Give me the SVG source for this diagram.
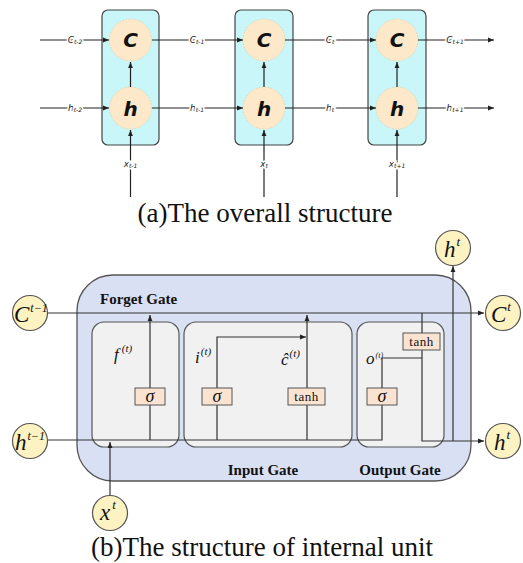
<svg xmlns="http://www.w3.org/2000/svg" width="523" height="563" viewBox="0 0 523 563">
<defs>
<marker id="ar" viewBox="0 0 10 10" refX="10" refY="5" markerWidth="6" markerHeight="6" orient="auto" markerUnits="userSpaceOnUse"><path d="M0,1 L10,5 L0,9 z" fill="#222"/></marker>
</defs>
<style>
.cell{fill:#c9f6f9;stroke:#444;stroke-width:1.2}
.node{fill:#fde9c9;stroke:#e6d6b0;stroke-width:1;stroke-dasharray:1.5 1.5}
.big{font-family:"DejaVu Sans",sans-serif;font-weight:bold;font-style:italic;font-size:20px;fill:#111}
.lab{font-family:"DejaVu Sans",sans-serif;font-style:italic;font-size:9px;fill:#222;stroke:#fff;stroke-width:3;paint-order:stroke}
.ln{stroke:#222;stroke-width:1.2;fill:none}
.ln2{stroke:#333;stroke-width:1.2;fill:none}
.cap{font-family:"Liberation Serif",serif;font-size:27px;fill:#111}
.outer{fill:#d9e0f3;stroke:#555;stroke-width:1.3}
.inner{fill:#f1f1f1;stroke:#555;stroke-width:1.2}
.gl{font-family:"Liberation Serif",serif;font-weight:bold;font-size:15px;fill:#111}
.op{fill:#fbe3d2;stroke:#555;stroke-width:1}
.opt{font-family:"Liberation Serif",serif;font-size:13px;fill:#111;letter-spacing:0.5px}
.opm{font-family:"Liberation Serif",serif;font-style:italic;font-size:18px;fill:#111}
.io{fill:#fdf2c2;stroke:#555;stroke-width:1.2}
.mt{font-family:"Liberation Serif",serif;font-style:italic;font-size:23px;fill:#111}
.ms{font-family:"Liberation Serif",serif;font-style:italic;font-size:17px;fill:#111}
</style>
<rect width="523" height="563" fill="#fff"/>

<!-- (a) overall structure -->
<g id="cell1"><rect class="cell" x="102" y="10" width="57" height="135" rx="6"/><circle class="node" cx="130.5" cy="40" r="21"/><text class="big" x="130.5" y="47" text-anchor="middle">C</text><circle class="node" cx="130.5" cy="108" r="21"/><text class="big" x="130.5" y="116" text-anchor="middle">h</text></g>
<g id="cell2"><rect class="cell" x="235" y="10" width="58" height="135" rx="6"/><circle class="node" cx="264" cy="40" r="21"/><text class="big" x="264" y="47" text-anchor="middle">C</text><circle class="node" cx="264" cy="108" r="21"/><text class="big" x="264" y="116" text-anchor="middle">h</text></g>
<g id="cell3"><rect class="cell" x="368" y="10" width="58" height="135" rx="6"/><circle class="node" cx="397" cy="40" r="21"/><text class="big" x="397" y="47" text-anchor="middle">C</text><circle class="node" cx="397" cy="108" r="21"/><text class="big" x="397" y="116" text-anchor="middle">h</text></g>

<g id="connectors-a">
<line class="ln" x1="40" y1="40" x2="109" y2="40" marker-end="url(#ar)"/>
<line class="ln" x1="152" y1="40" x2="243" y2="40" marker-end="url(#ar)"/>
<line class="ln" x1="285" y1="40" x2="376" y2="40" marker-end="url(#ar)"/>
<line class="ln" x1="418" y1="40" x2="494" y2="40" marker-end="url(#ar)"/>
<line class="ln" x1="40" y1="108" x2="109" y2="108" marker-end="url(#ar)"/>
<line class="ln" x1="152" y1="108" x2="243" y2="108" marker-end="url(#ar)"/>
<line class="ln" x1="285" y1="108" x2="376" y2="108" marker-end="url(#ar)"/>
<line class="ln" x1="418" y1="108" x2="494" y2="108" marker-end="url(#ar)"/>
<line class="ln" x1="130.5" y1="87" x2="130.5" y2="62" marker-end="url(#ar)"/>
<line class="ln" x1="264" y1="87" x2="264" y2="62" marker-end="url(#ar)"/>
<line class="ln" x1="397" y1="87" x2="397" y2="62" stroke="#666" marker-end="url(#ar)"/>
<line class="ln" x1="130.5" y1="197" x2="130.5" y2="130" marker-end="url(#ar)"/>
<line class="ln" x1="264" y1="197" x2="264" y2="130" marker-end="url(#ar)"/>
<line class="ln" x1="397" y1="197" x2="397" y2="130" stroke="#888" marker-end="url(#ar)"/>
<text class="lab" x="75" y="43" text-anchor="middle">C<tspan font-size="6" dy="1">t-2</tspan></text>
<text class="lab" x="197" y="43" text-anchor="middle">C<tspan font-size="6" dy="1">t-1</tspan></text>
<text class="lab" x="330" y="43" text-anchor="middle">C<tspan font-size="6" dy="1">t</tspan></text>
<text class="lab" x="455" y="43" text-anchor="middle">C<tspan font-size="6" dy="1">t+1</tspan></text>
<text class="lab" x="75" y="111" text-anchor="middle">h<tspan font-size="6" dy="1">t-2</tspan></text>
<text class="lab" x="197" y="111" text-anchor="middle">h<tspan font-size="6" dy="1">t-1</tspan></text>
<text class="lab" x="330" y="111" text-anchor="middle">h<tspan font-size="6" dy="1">t</tspan></text>
<text class="lab" x="455" y="111" text-anchor="middle">h<tspan font-size="6" dy="1">t+1</tspan></text>
<text class="lab" x="130.5" y="167" text-anchor="middle" font-size="10">x<tspan font-size="6" dy="1">t-1</tspan></text>
<text class="lab" x="264" y="167" text-anchor="middle" font-size="10">x<tspan font-size="6" dy="1">t</tspan></text>
<text class="lab" x="397" y="167" text-anchor="middle" font-size="10">x<tspan font-size="6" dy="1">t+1</tspan></text>
</g>
<text class="cap" x="265" y="222" text-anchor="middle">(a)The overall structure</text>

<!-- (b) internal unit -->
<g id="lstm-unit"><rect class="outer" x="77" y="275" width="394" height="206" rx="36"/><text class="gl" x="100" y="304">Forget Gate</text><text class="gl" x="263" y="475" text-anchor="middle" font-size="14">Input Gate</text><text class="gl" x="400" y="475" text-anchor="middle" font-size="14">Output Gate</text></g>
<g id="forget-gate"><rect class="inner" x="92" y="322" width="87" height="125" rx="12"/><text class="ms" x="114" y="360">f<tspan font-size="11" dx="3" dy="-8">(t)</tspan></text></g>
<g id="input-gate"><rect class="inner" x="184" y="322" width="168" height="125" rx="12"/><text class="ms" x="195" y="363">i<tspan font-size="11" dx="1" dy="-8">(t)</tspan></text><text class="ms" x="281" y="365">ĉ<tspan font-size="11" dx="1" dy="-8">(t)</tspan></text></g>
<g id="output-gate"><rect class="inner" x="357" y="322" width="87" height="125" rx="12"/><text class="ms" x="366" y="364" font-size="13">o<tspan font-size="8" dx="1" dy="-6">(t)</tspan></text></g>

<g id="connectors-b">
<line class="ln2" x1="48" y1="313" x2="484" y2="313" marker-end="url(#ar)"/>
<polyline class="ln2" points="48,440 382,440 382,358 422,358"/>
<line class="ln2" x1="150" y1="440" x2="150" y2="315" marker-end="url(#ar)"/>
<polyline class="ln2" points="217,440 217,337 306,337" marker-end="url(#ar)"/>
<line class="ln2" x1="307" y1="440" x2="307" y2="315" marker-end="url(#ar)"/>
<polyline class="ln2" points="422,313 422,441 484,441" marker-end="url(#ar)"/>
<line class="ln2" x1="453" y1="441" x2="453" y2="266" marker-end="url(#ar)"/>
<line class="ln2" x1="110" y1="496" x2="110" y2="442" marker-end="url(#ar)"/>
</g>

<g id="op-sigma-f"><rect class="op" x="135" y="388" width="30" height="17"/><text class="opm" x="150" y="402" text-anchor="middle">σ</text></g>
<g id="op-sigma-i"><rect class="op" x="202" y="388" width="30" height="17"/><text class="opm" x="217" y="402" text-anchor="middle">σ</text></g>
<g id="op-tanh-i"><rect class="op" x="288" y="388" width="37" height="17"/><text class="opt" x="306.5" y="401" text-anchor="middle">tanh</text></g>
<g id="op-sigma-o"><rect class="op" x="367" y="388" width="30" height="17"/><text class="opm" x="382" y="402" text-anchor="middle">σ</text></g>
<g id="op-tanh-o"><rect class="op" x="403" y="333" width="37" height="17"/><text class="opt" x="421.5" y="346" text-anchor="middle">tanh</text></g>

<g id="c-prev"><circle class="io" cx="30" cy="313" r="17.5"/><text class="mt" x="14" y="322" font-size="22">C<tspan font-size="12" dx="1" dy="-10">t−1</tspan></text></g>
<g id="c-next"><circle class="io" cx="503" cy="313" r="17.5"/><text class="mt" x="491" y="322">C<tspan font-size="13" dx="1" dy="-11">t</tspan></text></g>
<g id="h-prev"><circle class="io" cx="30" cy="441" r="17.5"/><text class="mt" x="15" y="450" font-size="22">h<tspan font-size="12" dx="1" dy="-10">t−1</tspan></text></g>
<g id="h-next"><circle class="io" cx="503" cy="441" r="17.5"/><text class="mt" x="494" y="450">h<tspan font-size="13" dx="1" dy="-11">t</tspan></text></g>
<g id="h-top"><circle class="io" cx="453" cy="248" r="17.5"/><text class="mt" x="444" y="257">h<tspan font-size="13" dx="1" dy="-11">t</tspan></text></g>
<g id="x-in"><circle class="io" cx="110" cy="513" r="17.5"/><text class="mt" x="100" y="520">x<tspan font-size="13" dx="2" dy="-11">t</tspan></text></g>

<text class="cap" x="262" y="556" text-anchor="middle">(b)The structure of internal unit</text>
</svg>
